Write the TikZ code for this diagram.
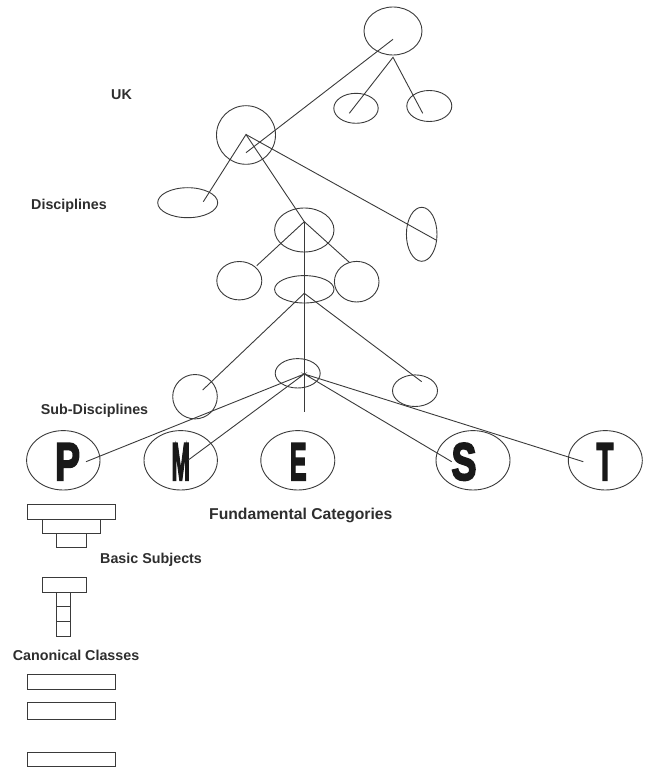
\documentclass[tikz,border=0pt]{standalone}
\usepackage{graphicx}
\usepackage{fontspec}
\setmainfont{Liberation Sans}
\newfontfamily\heavyfont[FakeBold=4]{Liberation Sans Bold}
\usetikzlibrary{shapes.geometric,calc}
\definecolor{lc}{HTML}{3A3A3A}
\definecolor{tc}{HTML}{2E2E2E}
\newcommand\pmestletter[2]{\resizebox{#2pt}{36.7pt}{\heavyfont #1}}
\begin{document}
\begin{tikzpicture}[x=1pt,y=-1pt,
  ell/.style={draw=lc, line width=0.9pt, ellipse, inner sep=0pt},
  conn/.style={draw=lc, line width=0.9pt},
  lab/.style={font=\fontsize{14.3}{16}\selectfont\bfseries, text=tc, inner sep=0pt, anchor=base west},
  letter/.style={inner sep=0pt, text=black!90},
  box/.style={draw=lc, line width=0.9pt, rectangle, inner sep=0pt, anchor=north west}]
\useasboundingbox (0,0) rectangle (646,767);

% ---- ellipses ----
\node[ell, minimum width=58, minimum height=48] (top) at (393,31) {};
\node[ell, minimum width=44.4, minimum height=30] (s1) at (356,108.3) {};
\node[ell, minimum width=45, minimum height=31] (s2) at (429.3,106) {};
\node[ell, minimum width=59, minimum height=58.6] (uk) at (246,135) {};
\node[ell, minimum width=60, minimum height=30] (d1) at (187.7,202.7) {};
\node[ell, minimum width=59.4, minimum height=44] (dm) at (304.3,230) {};
\node[ell, minimum width=30.6, minimum height=54] (dv) at (421.7,234.3) {};
\node[ell, minimum width=45, minimum height=38.4] (c1) at (239.3,280.7) {};
\node[ell, minimum width=44.6, minimum height=40.6] (c2) at (356.7,281.7) {};
\node[ell, minimum width=59.4, minimum height=27.4] (fl) at (304.3,289.3) {};
\node[ell, minimum width=44.6, minimum height=44.4] (sd1) at (195,396.7) {};
\node[ell, minimum width=45, minimum height=31.6] (sd2) at (415,390.7) {};
\node[ell, minimum width=45, minimum height=29.4] (sdm) at (297.7,373.3) {};

\node[ell, minimum width=73.4, minimum height=59.4] (P) at (63.3,460.3) {};
\node[ell, minimum width=73.4, minimum height=59.4] (M) at (180.7,460.3) {};
\node[ell, minimum width=74, minimum height=59.4] (E) at (297.8,460.3) {};
\node[ell, minimum width=74, minimum height=59.4] (S) at (473,460.3) {};
\node[ell, minimum width=74, minimum height=59.4] (T) at (605.3,460.3) {};

\node[letter] (Pl) at (67.5,461.7) {\pmestletter{P}{25}};
\node[letter] (Ml) at (180.8,461.7) {\pmestletter{M}{18.3}};
\node[letter] (El) at (298.3,461.7) {\pmestletter{E}{16.7}};
\node[letter] (Sl) at (464,461.7) {\pmestletter{S}{25}};
\node[letter] (Tl) at (605,461.7) {\pmestletter{T}{16.7}};

% ---- hub and end points ----
\coordinate (topA) at ($(top.center)+(0,8.3)$);
\coordinate (topB) at ($(top.center)+(0,26.3)$);
\coordinate (s1e) at ($(s1.center)+(-6.7,5)$);
\coordinate (s2e) at ($(s2.center)+(-6.6,7.3)$);
\coordinate (ukH) at ($(uk.center)+(0,-0.5)$);
\coordinate (ukE) at ($(uk.center)+(0,17.7)$);
\coordinate (d1e) at ($(d1.center)+(15.6,-1)$);
\coordinate (dmH) at ($(dm.center)+(0,-8.3)$);
\coordinate (dve) at ($(dv.center)+(14.3,5.7)$);
\coordinate (c1e) at ($(c1.center)+(17.4,-15)$);
\coordinate (c2e) at ($(c2.center)+(-7.4,-19.4)$);
\coordinate (vEnd) at (304.3,411.7);
\coordinate (flH) at ($(fl.center)+(0,4)$);
\coordinate (sd1e) at ($(sd1.center)+(7.7,-6.7)$);
\coordinate (sd2e) at ($(sd2.center)+(6.7,-9)$);
\coordinate (sdH) at ($(sdm.center)+(6.6,0.7)$);
\coordinate (Pe) at (86,461.7);
\coordinate (Me) at (188.3,460);
\coordinate (Se) at (451.7,461.7);
\coordinate (Te) at (583.3,461.7);

% ---- connectors ----
\draw[conn] (topA) -- (ukE);
\draw[conn] (s1e) -- (topB) -- (s2e);
\draw[conn] (d1e) -- (ukH) -- (dmH);
\draw[conn] (ukH) -- (dve);
\draw[conn] (c1e) -- (dmH) -- (c2e);
\draw[conn] (dmH) -- (vEnd);
\draw[conn] (sd1e) -- (flH) -- (sd2e);
\draw[conn] (Pe) -- (sdH) -- (Me);
\draw[conn] (Se) -- (sdH) -- (Te);

% ---- labels ----
\node[lab] (lUK) at (111,99.3) {UK};
\node[lab] (lDis) at (31,209.3) {Disciplines};
\node[lab] (lSub) at (40.7,414) {Sub-Disciplines};
\node[lab, font=\fontsize{15.7}{18}\selectfont\bfseries] (lFund) at (209,519.3) {Fundamental Categories};
\node[lab] (lBas) at (100,563) {Basic Subjects};
\node[lab] (lCan) at (12.7,660) {Canonical Classes};

% ---- boxes ----
\node[box, minimum width=88.3, minimum height=15] (b1) at (26.7,504) {};
\node[box, minimum width=58.3, minimum height=14.3] (b2) at (41.7,519) {};
\node[box, minimum width=30, minimum height=14] (b3) at (55.7,533.3) {};

\node[box, minimum width=44, minimum height=14.4] (t0) at (41.7,577.3) {};
\node[box, minimum width=14.3, minimum height=14] (t1) at (55.7,591.7) {};
\node[box, minimum width=14.3, minimum height=15] (t2) at (55.7,605.7) {};
\node[box, minimum width=14.3, minimum height=15] (t3) at (55.7,620.7) {};

\node[box, minimum width=88.3, minimum height=15] (r1) at (26.7,674) {};
\node[box, minimum width=88.3, minimum height=16.7] (r2) at (26.7,702.3) {};
\node[box, minimum width=88.3, minimum height=14] (r3) at (26.7,752.3) {};
\end{tikzpicture}
\end{document}
